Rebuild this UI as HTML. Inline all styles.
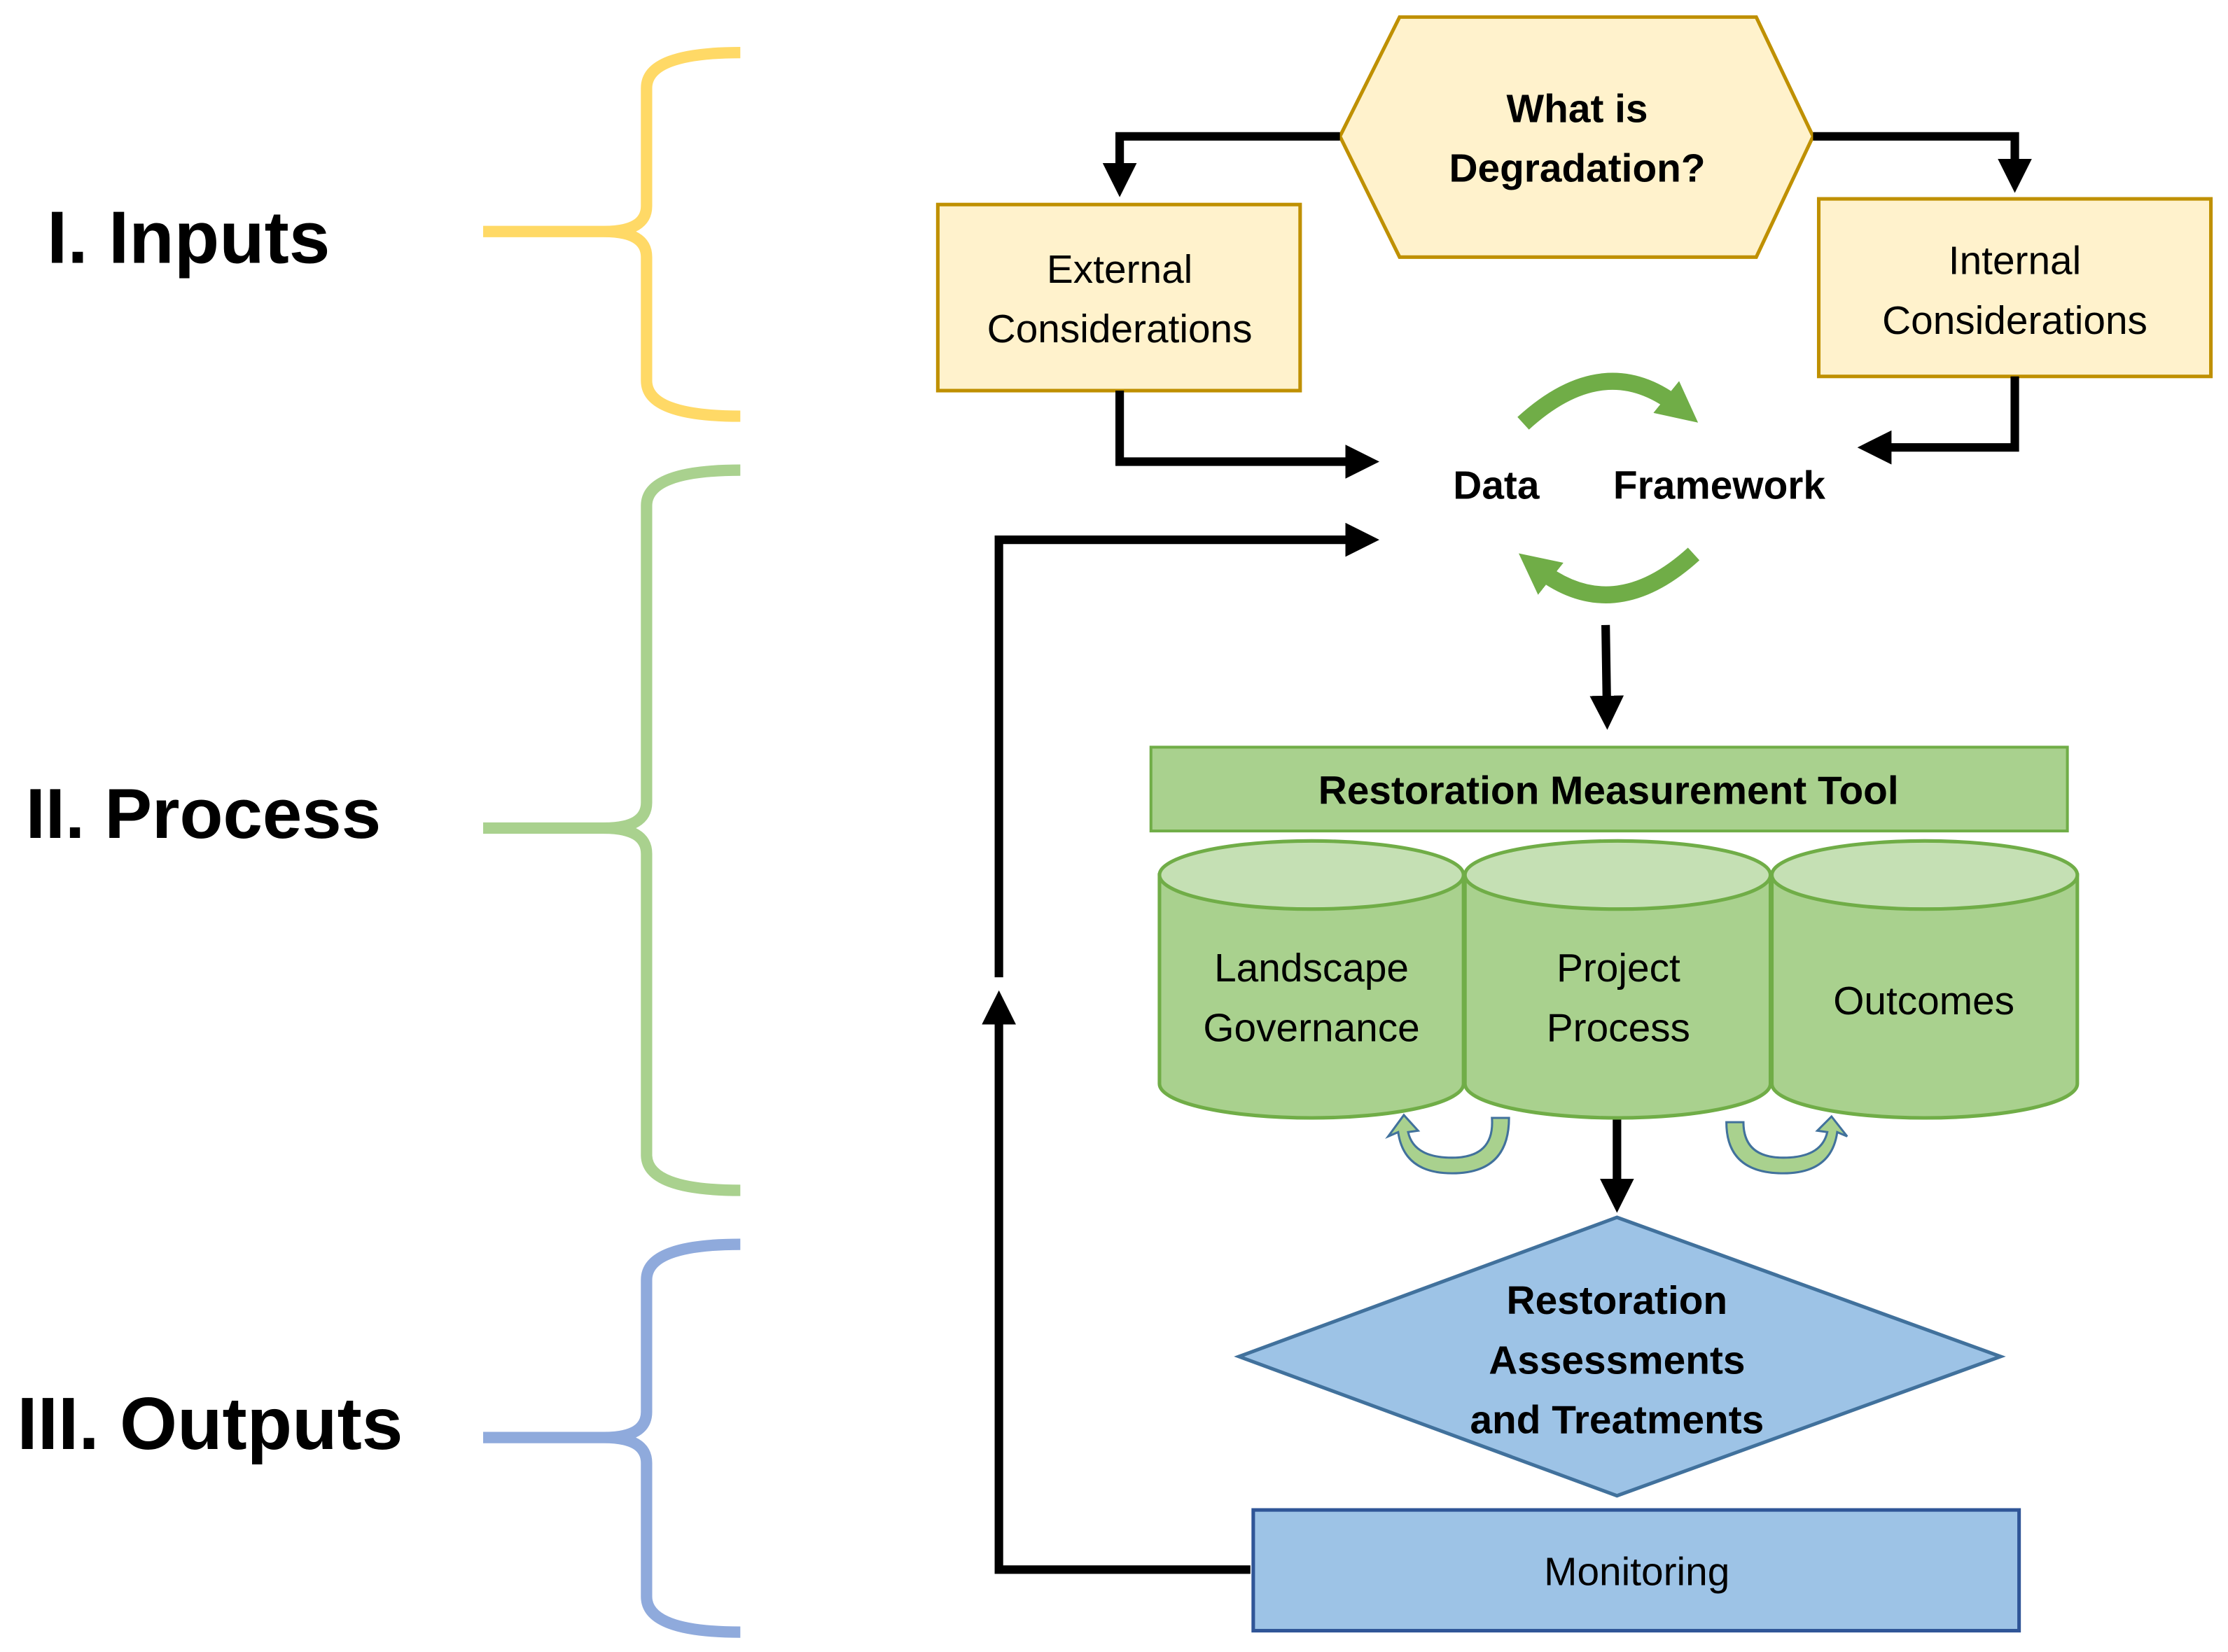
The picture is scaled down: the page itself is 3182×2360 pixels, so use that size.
<!DOCTYPE html>
<html><head><meta charset="utf-8"><style>
html,body{margin:0;padding:0;background:#fff;}
svg{display:block;}
text{font-family:"Liberation Sans",sans-serif;}
</style></head><body>
<svg width="3182" height="2360" viewBox="0 0 1568 1163" xmlns="http://www.w3.org/2000/svg">
<defs>
<marker id="ah" markerWidth="4" markerHeight="4" refX="2.2" refY="2" orient="auto" markerUnits="strokeWidth">
<path d="M0,0 L4,2 L0,4 z" fill="#000"/></marker>
<marker id="gh" markerWidth="2.4" markerHeight="2.4" refX="1" refY="1.2" orient="auto" markerUnits="strokeWidth">
<path d="M0,0 L2.4,1.2 L0,2.4 z" fill="#70AD47"/></marker>
</defs>
<g fill="none" stroke-width="8">
<path stroke="#FFD966" d="M521,37 Q455,37 455,62 L455,145 Q455,163 425,163 L340,163 M521,293 Q455,293 455,268 L455,181 Q455,163 425,163"/>
<path stroke="#A9D18E" d="M521,331 Q455,331 455,356 L455,565 Q455,583 425,583 L340,583 M521,838 Q455,838 455,813 L455,601 Q455,583 425,583"/>
<path stroke="#8FAADC" d="M521,876 Q455,876 455,901 L455,994 Q455,1012 425,1012 L340,1012 M521,1149 Q455,1149 455,1124 L455,1030 Q455,1012 425,1012"/>
</g>
<g font-weight="bold" fill="#000">
<text x="33" y="185" font-size="52">I. Inputs</text>
<text x="18" y="590" font-size="50">II. Process</text>
<text x="12" y="1020" font-size="52">III. Outputs</text>
</g>
<polygon points="943,96 985,12 1236,12 1276,96 1236,181 985,181" fill="#FFF2CC" stroke="#BF9000" stroke-width="2.5"/>
<g font-weight="bold" font-size="28" text-anchor="middle">
<text x="1110" y="86">What is</text>
<text x="1110" y="128">Degradation?</text>
</g>
<rect x="660" y="144" width="255" height="131" fill="#FFF2CC" stroke="#BF9000" stroke-width="2.5"/>
<rect x="1280" y="140" width="276" height="125" fill="#FFF2CC" stroke="#BF9000" stroke-width="2.5"/>
<g font-size="28" text-anchor="middle">
<text x="788" y="199">External</text>
<text x="788" y="241">Considerations</text>
<text x="1418" y="193">Internal</text>
<text x="1418" y="235">Considerations</text>
</g>
<g fill="none" stroke="#000" stroke-width="6">
<path d="M943,96 L788,96 L788,128" marker-end="url(#ah)"/>
<path d="M1276,96 L1418,96 L1418,125" marker-end="url(#ah)"/>
<path d="M788,275 L788,325 L960,325" marker-end="url(#ah)"/>
<path d="M1418,265 L1418,315 L1318,315" marker-end="url(#ah)"/>
<path d="M1130,440 L1131,503" marker-end="url(#ah)"/>
<path d="M880,1105 L703,1105 L703,708" marker-end="url(#ah)"/>
<path d="M703,688 L703,380 L960,380" marker-end="url(#ah)"/>
<path d="M1138,788 L1138,843" marker-end="url(#ah)"/>
</g>
<g font-weight="bold" font-size="28" text-anchor="middle">
<text x="1053" y="351">Data</text>
<text x="1210" y="351">Framework</text>
</g>
<g fill="none" stroke="#70AD47" stroke-width="12">
<path d="M1072,298 Q1130,245 1182,287" marker-end="url(#gh)"/>
<path d="M1192,390 Q1135,442 1082,400" marker-end="url(#gh)"/>
</g>
<rect x="810" y="526" width="645" height="59" fill="#A9D18E" stroke="#70AD47" stroke-width="2"/>
<text x="1132" y="566" font-weight="bold" font-size="28" text-anchor="middle">Restoration Measurement Tool</text>
<g stroke="#70AD47" stroke-width="2.5">
<path d="M816,616 L816,763 A107,24 0 0 0 1030,763 L1030,616 Z" fill="#A9D18E"/>
<ellipse cx="923" cy="616" rx="107" ry="24" fill="#C5E0B4"/>
<path d="M1031,616 L1031,763 A107.5,24 0 0 0 1246,763 L1246,616 Z" fill="#A9D18E"/>
<ellipse cx="1138.5" cy="616" rx="107.5" ry="24" fill="#C5E0B4"/>
<path d="M1247,616 L1247,763 A107.5,24 0 0 0 1462,763 L1462,616 Z" fill="#A9D18E"/>
<ellipse cx="1354.5" cy="616" rx="107.5" ry="24" fill="#C5E0B4"/>
</g>
<g font-size="28" text-anchor="middle">
<text x="923" y="691">Landscape</text>
<text x="923" y="733">Governance</text>
<text x="1139" y="691">Project</text>
<text x="1139" y="733">Process</text>
<text x="1354" y="714">Outcomes</text>
</g>
<g fill="#A9D18E" stroke="#41719C" stroke-width="1.5">
<path d="M1062,787 Q1062,826 1022,826 Q988,826 984,797 L977,800 L988,785 L998,796 L991,797 Q995,815 1022,815 Q1052,815 1050,787 Z"/>
<path d="M1215,790 Q1215,826 1255,826 Q1289,826 1293,797 L1300,800 L1289,786 L1279,796 L1286,797 Q1282,815 1255,815 Q1227,815 1227,790 Z"/>
</g>
<polygon points="872,955 1138,857 1408,955 1138,1053" fill="#9DC3E6" stroke="#41719C" stroke-width="2.5"/>
<g font-weight="bold" font-size="28" text-anchor="middle">
<text x="1138" y="925">Restoration</text>
<text x="1138" y="967">Assessments</text>
<text x="1138" y="1009">and Treatments</text>
</g>
<rect x="882" y="1063" width="539" height="85" fill="#9DC3E6" stroke="#2F5597" stroke-width="2.5"/>
<text x="1152" y="1116" font-size="28" text-anchor="middle">Monitoring</text>
</svg>
</body></html>
